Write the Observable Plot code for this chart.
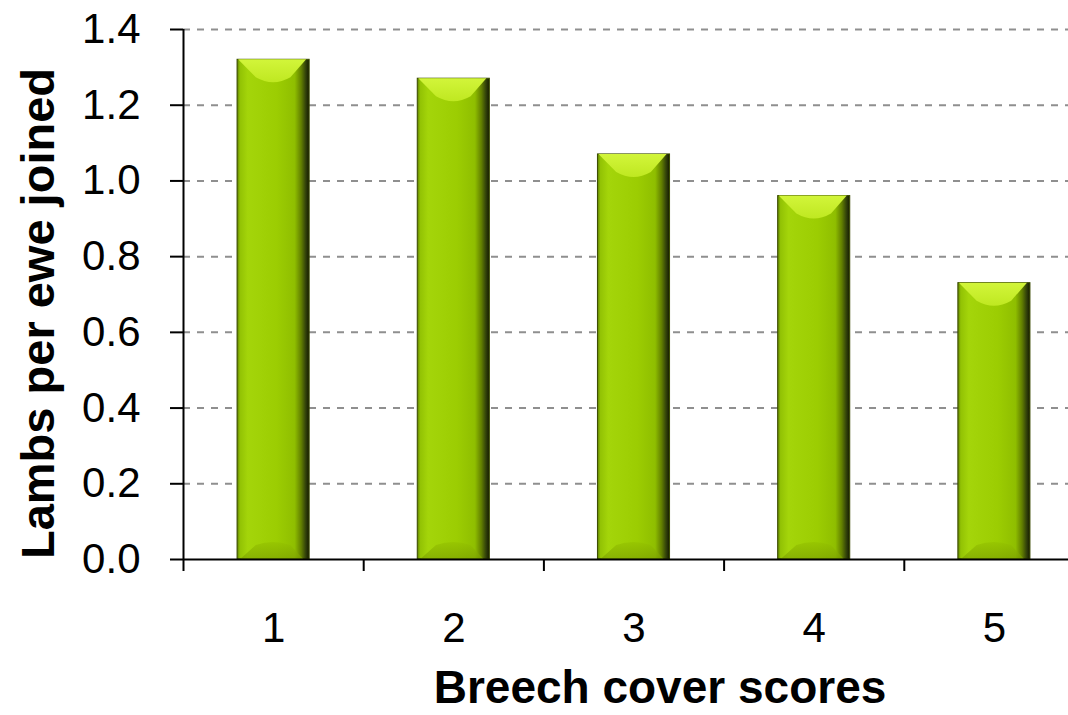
<!DOCTYPE html>
<html><head><meta charset="utf-8">
<script src="https://cdn.jsdelivr.net/npm/d3@7"></script>
<script src="https://cdn.jsdelivr.net/npm/@observablehq/plot@0.6"></script>
<style>body{margin:0;background:#fff}#chart svg{display:block}</style>
</head><body><div id="chart"></div>
<script>
// Data
const scores = [1, 2, 3, 4, 5];
const lambsPerEwe = [1.32, 1.27, 1.07, 0.96, 0.73];
const yTicks = [0, 0.2, 0.4, 0.6, 0.8, 1.0, 1.2, 1.4];
const xTitle = "Breech cover scores";
const yTitle = "Lambs per ewe joined";

const data = scores.map((s, i) => ({score: s, value: lambsPerEwe[i]}));
const boundaries = scores.map(s => s - 0.5);
const halfBar = 0.2;
const font = "Liberation Sans, Arial, Helvetica, sans-serif";

const defs = () => {
  const d = d3.create("svg:defs");
  const g = d.append("linearGradient").attr("id", "barGrad").attr("x1", 0).attr("x2", 1).attr("y1", 0).attr("y2", 0);
  [[0, "#5f7f00"], [0.04, "#92c204"], [0.15, "#a4d50a"], [0.55, "#9ccd02"], [0.8, "#8fbe00"], [0.89, "#627f00"], [0.95, "#34440a"], [1, "#141a00"]]
    .forEach(([o, c]) => g.append("stop").attr("offset", o).attr("stop-color", c));
  const cap = d.append("linearGradient").attr("id", "capGrad").attr("x1", 0).attr("x2", 0).attr("y1", 0).attr("y2", 1);
  [[0, "#d2f53a"], [1, "#bfe821"]].forEach(([o, c]) => cap.append("stop").attr("offset", o).attr("stop-color", c));
  const bot = d.append("linearGradient").attr("id", "botGrad").attr("x1", 0).attr("x2", 0).attr("y1", 0).attr("y2", 1);
  [[0, "#94c200"], [1, "#7a9f00"]].forEach(([o, c]) => bot.append("stop").attr("offset", o).attr("stop-color", c));
  return d.node();
};

const bevel = Plot.rect(data, {
  x1: d => d.score - halfBar, x2: d => d.score + halfBar, y1: 0, y2: "value",
  render: (index, scales, values) => {
    const g = d3.create("svg:g");
    for (const i of index) {
      const x1 = values.x1[i], x2 = values.x2[i];
      const yTop = Math.min(values.y1[i], values.y2[i]);
      const yBot = Math.max(values.y1[i], values.y2[i]);
      const w = x2 - x1, ins = w * 0.26, h = 18, hb = 14, mid = (x1 + x2) / 2;
      g.append("path")
        .attr("d", `M${x1 + 1},${yTop}L${x2 - 3},${yTop}L${x2 - ins},${yTop + h}Q${mid},${yTop + h + 10} ${x1 + ins},${yTop + h}Z`)
        .attr("fill", "url(#capGrad)");
      g.append("path")
        .attr("d", `M${x1 + ins},${yBot - hb}Q${mid},${yBot - hb - 6} ${x2 - ins},${yBot - hb}L${x2 - 6},${yBot}L${x1 + 3},${yBot}Z`)
        .attr("fill", "url(#botGrad)").attr("opacity", 0.65);
    }
    return g.node();
  }
});

const chart = Plot.plot({
  width: 1068,
  height: 715,
  marginLeft: 183,
  marginRight: 0,
  marginTop: 29,
  marginBottom: 156,
  style: {fontFamily: font, background: "#fff", color: "#000"},
  x: {type: "linear", domain: [0.5, 5.5], range: [183, 1084]},
  y: {domain: [0, 1.4]},
  marks: [
    defs,
    Plot.gridY(yTicks.filter(v => v > 0), {stroke: "#8f8f8f", strokeOpacity: 1, strokeWidth: 2, strokeDasharray: "7,7"}),
    Plot.rect(data, {x1: d => d.score - halfBar, x2: d => d.score + halfBar, y1: 0, y2: "value", fill: "url(#barGrad)", stroke: "#3a4a00", strokeWidth: 1}),
    bevel,
    Plot.ruleX([0.5], {stroke: "#000", strokeWidth: 2}),
    Plot.ruleY([0], {stroke: "#000", strokeWidth: 2}),
    Plot.axisY({ticks: yTicks, tickSize: 13, tickPadding: 30, fontSize: 42, tickFormat: d3.format(".1f"), label: null, strokeWidth: 2}),
    Plot.axisX({ticks: boundaries, tickSize: 12, tickFormat: () => "", label: null, strokeWidth: 2}),
    Plot.axisX({ticks: scores, tickSize: 0, tickPadding: 53, fontSize: 42, tickFormat: d3.format("d"), label: null}),
    Plot.text([yTitle], {frameAnchor: "left", rotate: -90, dx: -130, dy: 19, lineAnchor: "bottom", textAnchor: "middle", fontSize: 47, fontWeight: "bold", fill: "#000"}),
    Plot.text([xTitle], {frameAnchor: "bottom", dx: 34, dy: 143, lineAnchor: "bottom", textAnchor: "middle", fontSize: 46, fontWeight: "bold", fill: "#000"})
  ]
});
document.getElementById("chart").appendChild(chart);
</script>
</body></html>
